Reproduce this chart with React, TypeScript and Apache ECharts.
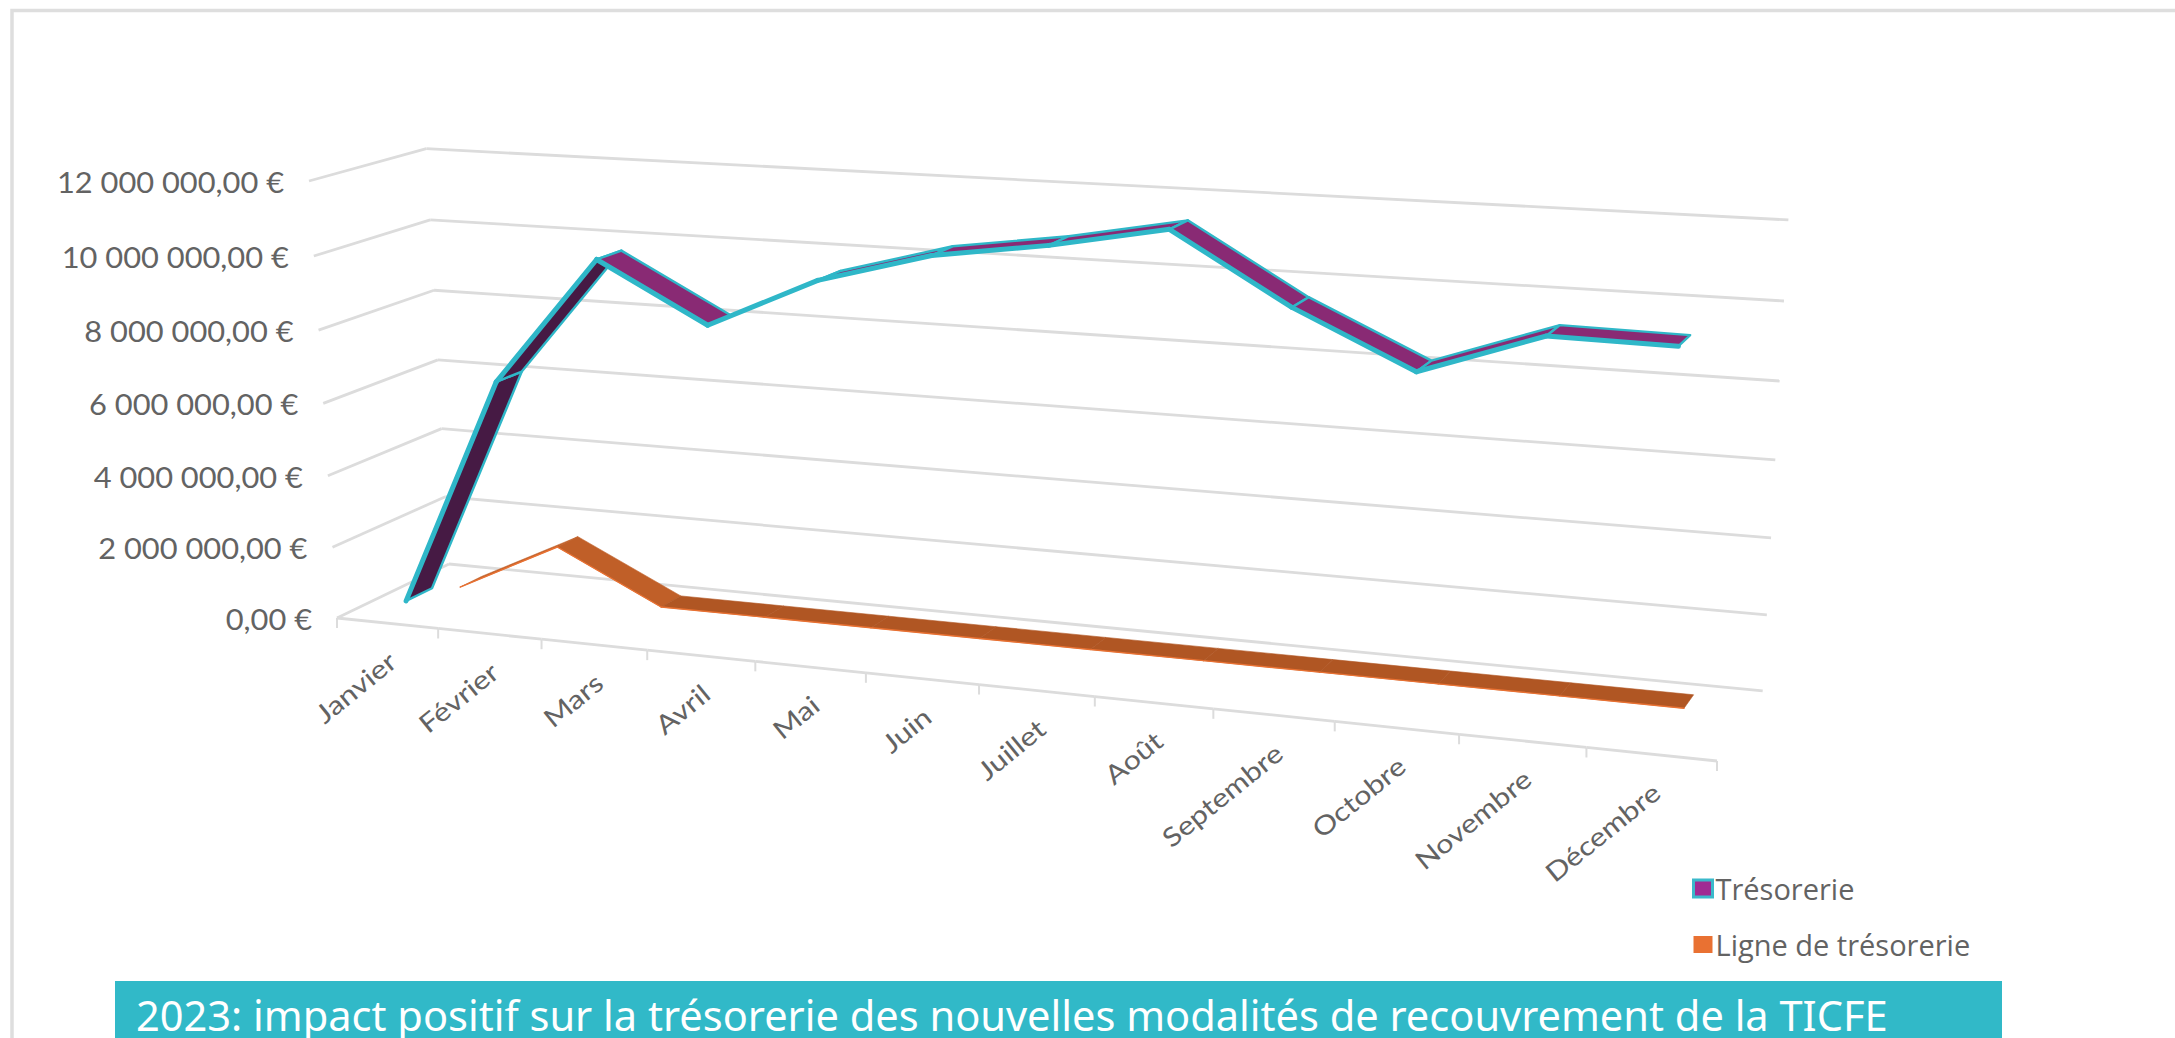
import React, { useEffect, useRef } from "react";
import * as echarts from "echarts";

const categories = ["Janvier", "Février", "Mars", "Avril", "Mai", "Juin", "Juillet", "Août", "Septembre", "Octobre", "Novembre", "Décembre"];
const tresorerie = [360000, 6710000, 10180000, 8640000, 10000000, 10820000, 11250000, 11820000, 10080000, 8700000, 9780000, 9740000];
const ligneTresorerie = [0, 1440000, 0, 0, 0, 0, 0, 0, 0, 0, 0, 0];
const valueTicks = [0, 2000000, 4000000, 6000000, 8000000, 10000000, 12000000];
const seriesNames = ["Trésorerie", "Ligne de trésorerie"];
const banner = "2023: impact positif sur la trésorerie des nouvelles modalités de recouvrement de la TICFE";

// Hidden cartesian grid: its scales turn data into fractions, which a 3D projection then places.
const G = { left: 100, top: 100, width: 1000, height: 800 };
const O = [337, 618];
const EU = [1717, 761];
const EV = [309, 181];
const EW = [449, 564];
const g1 = -0.13, g2 = -0.035, g3 = 0.055;
const A = [EU[0] * (1 + g1) - O[0], EU[1] * (1 + g1) - O[1]];
const B = [EV[0] * (1 + g2) - O[0], EV[1] * (1 + g2) - O[1]];
const C = [EW[0] * (1 + g3) - O[0], EW[1] * (1 + g3) - O[1]];

function project(u: number, v: number, w: number) {
  const d = 1 + g1 * u + g2 * v + g3 * w;
  return [
    (O[0] + A[0] * u + B[0] * v + C[0] * w) / d,
    (O[1] + A[1] * u + B[1] * v + C[1] * w) / d,
  ];
}

function fractions(api: any, x: number, val: number) {
  const p = api.coord([x, val]);
  return [(p[0] - G.left) / G.width, (G.top + G.height - p[1]) / G.height];
}

const euro = (n: number) => {
  const s = String(Math.round(n)).replace(/\B(?=(\d{3})+(?!\d))/g, " ");
  return `${s},00 €`;
};

const GRID_COLOR = "#DCDCDC";
const TEXT_COLOR = "#636363";
const TEAL = "#2FB7C8";

function ribbonRenderer(values: number[], w0: number, w1: number, opts: any) {
  return (params: any, api: any) => {
    const i = params.dataIndex;
    if (i >= values.length - 1) return { type: "group", children: [] };
    const [u0, v0] = fractions(api, i, values[i]);
    const [u1, v1] = fractions(api, i + 1, values[i + 1]);
    const f0 = project(u0, v0, w0);
    const f1 = project(u1, v1, w0);
    const b0 = project(u0, v0, w1);
    const b1 = project(u1, v1, w1);
    const cross = (f1[0] - f0[0]) * (b0[1] - f0[1]) - (f1[1] - f0[1]) * (b0[0] - f0[0]);
    const flat = values[i] === values[i + 1];
    const fill = cross > 200 ? opts.under : flat ? opts.flat : opts.top;
    return {
      type: "group",
      children: [
        {
          type: "polygon",
          shape: { points: [f0, f1, b1, b0] },
          style: { fill, stroke: opts.edge || fill, lineWidth: opts.edgeWidth, lineJoin: "round" },
        },
        {
          type: "polyline",
          shape: { points: [f0, f1] },
          style: { fill: "none", stroke: opts.front, lineWidth: opts.frontWidth, lineCap: "round" },
        },
      ],
    };
  };
}

const renderGrid = (params: any, api: any) => {
  const tick = valueTicks[params.dataIndex];
  const [, v] = fractions(api, 0, tick);
  const front = project(0, v, 0);
  const back = project(0, v, 1);
  const right = project(1, v, 1);
  const ls = { stroke: GRID_COLOR, lineWidth: 2.8 };
  return {
    type: "group",
    children: [
      { type: "line", shape: { x1: front[0], y1: front[1], x2: back[0], y2: back[1] }, style: ls },
      { type: "line", shape: { x1: back[0], y1: back[1], x2: right[0], y2: right[1] }, style: ls },
      {
        type: "text",
        x: front[0] - 25,
        y: front[1] + 1,
        scaleX: 1.1,
        style: { text: euro(tick), font: "28px Lato", fill: TEXT_COLOR, align: "right", verticalAlign: "middle", x: 0, y: 0 },
      },
    ],
  };
};

const renderCategory = (params: any, api: any) => {
  const i = params.dataIndex;
  const band = api.coord([1, 0])[0] - api.coord([0, 0])[0];
  const [uc] = fractions(api, i, 0);
  const half = band / 2 / G.width;
  const u0 = uc - half;
  const u1 = uc + half;
  const t0 = project(u0, 0, 0);
  const t1 = project(u1, 0, 0);
  const c = project(uc, 0, 0);
  const ls = { stroke: GRID_COLOR, lineWidth: 2.8 };
  const tick = { stroke: GRID_COLOR, lineWidth: 2 };
  const children: any[] = [
    { type: "line", shape: { x1: t0[0], y1: t0[1], x2: t1[0], y2: t1[1] }, style: ls },
    { type: "line", shape: { x1: t1[0], y1: t1[1], x2: t1[0], y2: t1[1] + 10 }, style: tick },
    {
      type: "text",
      x: c[0] + 5,
      y: c[1] + 34,
      rotation: (39 * Math.PI) / 180,
      scaleX: 1.18,
      style: { text: categories[i], font: "26px Lato", fill: TEXT_COLOR, align: "right", verticalAlign: "middle", x: 0, y: 0 },
    },
  ];
  if (i === 0) children.push({ type: "line", shape: { x1: t0[0], y1: t0[1], x2: t0[0], y2: t0[1] + 10 }, style: tick });
  return { type: "group", children };
};

export default function App() {
  const ref = useRef<HTMLDivElement>(null);
  useEffect(() => {
    const chart = echarts.init(ref.current!, null, { renderer: "svg" });
    chart.setOption({
      animation: false,
      backgroundColor: "#FFFFFF",
      grid: { left: G.left, top: G.top, width: G.width, height: G.height, show: false },
      xAxis: { type: "category", data: categories, show: false, boundaryGap: true },
      yAxis: { type: "value", min: 0, max: 12000000, interval: 2000000, show: false },
      legend: {
        orient: "vertical",
        left: 1687,
        top: 869,
        itemWidth: 19,
        itemHeight: 17,
        itemGap: 27,
        textStyle: { fontFamily: "Open Sans", fontSize: 29, color: TEXT_COLOR, padding: [0, 0, 0, -2] },
        selectedMode: false,
        data: [
          { name: seriesNames[0], icon: "rect", itemStyle: { color: "#A02B93", borderColor: "#3BB9CB", borderWidth: 3 } },
          { name: seriesNames[1], icon: "rect", itemStyle: { color: "#E97132", borderWidth: 0 } },
        ],
      },
      graphic: [
        { type: "polyline", z: 100, shape: { points: [[12, 1038], [12, 10.5], [2175, 10.5]] }, style: { fill: "none", stroke: "#DEDEDE", lineWidth: 3.5 } },
        { type: "rect", z: 100, shape: { x: 115, y: 981, width: 1887, height: 57 }, style: { fill: "#31B9C8" } },
        {
          type: "text", z: 101, x: 136, y: 1035, scaleX: 0.99,
          style: { text: banner, font: "42px 'Noto Sans'", fill: "#FFFFFF", align: "left", verticalAlign: "bottom" },
        },
      ],
      series: [
        {
          type: "custom", z: 1, silent: true, clip: false, coordinateSystem: "cartesian2d",
          data: valueTicks.map((t) => [0, t]), encode: { x: 0, y: 1 }, renderItem: renderGrid,
        },
        {
          type: "custom", z: 1, silent: true, clip: false, coordinateSystem: "cartesian2d",
          data: categories.map((_, i) => [i, 0]), encode: { x: 0, y: 1 }, renderItem: renderCategory,
        },
        {
          name: seriesNames[1], type: "custom", z: 3, silent: true, clip: false, coordinateSystem: "cartesian2d",
          itemStyle: { color: "#E97132" },
          data: ligneTresorerie.map((v, i) => [i, v]), encode: { x: 0, y: 1 },
          renderItem: ribbonRenderer(ligneTresorerie, 0.65, 0.85, { top: "#C05F28", flat: "#B05623", under: "#7A3A18", edgeWidth: 0.6, front: "#E97132", frontWidth: 1.4 }),
        },
        {
          name: seriesNames[0], type: "custom", z: 4, silent: true, clip: false, coordinateSystem: "cartesian2d",
          itemStyle: { color: "#A02B93" },
          data: tresorerie.map((v, i) => [i, v]), encode: { x: 0, y: 1 },
          renderItem: ribbonRenderer(tresorerie, 0.17, 0.4, { top: "#892A74", flat: "#892A74", under: "#461A44", edge: TEAL, edgeWidth: 2.4, front: TEAL, frontWidth: 5 }),
        },
      ],
    });
    return () => chart.dispose();
  }, []);
  return <div ref={ref} style={{ position: "absolute", left: 0, top: 0, width: 2175, height: 1038 }} />;
}
